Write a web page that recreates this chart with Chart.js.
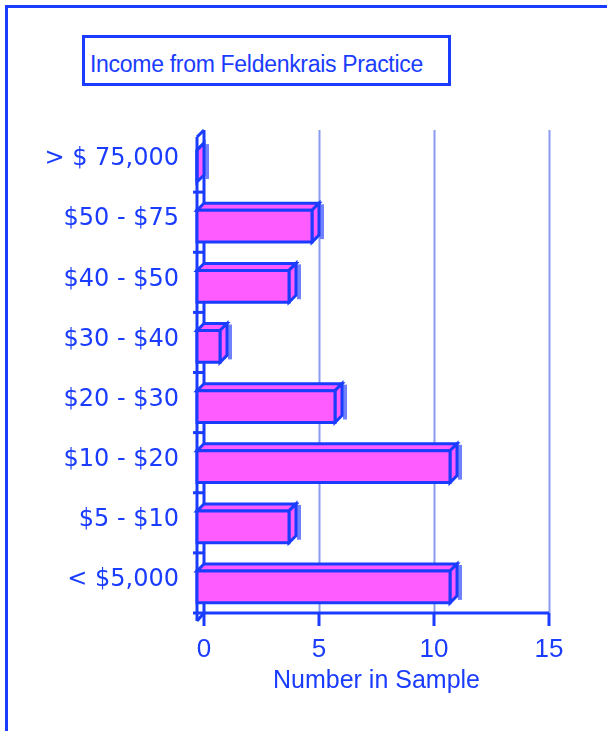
<!DOCTYPE html>
<html>
<head>
<meta charset="utf-8">
<script src="https://cdn.jsdelivr.net/npm/chart.js@4"></script>
<style>
  html, body { margin: 0; padding: 0; background: #fff; overflow: hidden; }
  #wrap { position: relative; width: 607px; height: 731px; overflow: hidden; }
  #frame { position: absolute; left: 5px; top: 5px; width: 1000px; height: 1000px; border: 3px solid #1a3cff; }
  #title { position: absolute; left: 82px; top: 35px; width: 358px; height: 32px; border: 3px solid #1a3cff;
           font: 23px "Liberation Sans", Arial, sans-serif; line-height: 26px; color: #1a3cff;
           padding: 13px 0 0 5px; letter-spacing: -0.3px; }
  canvas { position: absolute; left: 0; top: 0; }
</style>
</head>
<body>
<div id="wrap">
  <div id="frame"></div>
  <div id="title">Income from Feldenkrais Practice</div>
  <canvas id="chart" width="607" height="731"></canvas>
</div>
<script>
const BLUE = '#1a3cff', PINK = '#ff5cff', GRID = '#8a9cf0', SHADOW = '#7081ff';

const CATEGORIES = ['> $ 75,000', '$50 - $75', '$40 - $50', '$30 - $40', '$20 - $30', '$10 - $20', '$5 - $10', '< $5,000'];
const COUNTS = [0, 5, 4, 1, 6, 11, 4, 11];
const X_TICKS = [0, 5, 10, 15];

const DEPTH = 7;   // 3D offset of the bars
const SHIFT = 3;   // axis lines sit a little below the category slots

const axes3d = {
  id: 'axes3d',
  beforeDatasetsDraw(chart) {
    const { ctx, chartArea } = chart;
    const xs = chart.scales.x, ys = chart.scales.y;
    const top = chartArea.top + 1, bottom = chartArea.bottom + SHIFT;
    const x0 = xs.getPixelForValue(0);
    ctx.save();
    // vertical grid
    ctx.strokeStyle = GRID; ctx.lineWidth = 2;
    X_TICKS.slice(1).forEach(v => {
      const px = Math.round(xs.getPixelForValue(v)) + 0.5;
      ctx.beginPath(); ctx.moveTo(px, top); ctx.lineTo(px, bottom); ctx.stroke();
    });
    // the wall of the y axis
    ctx.strokeStyle = BLUE; ctx.lineWidth = 3;
    ctx.beginPath();
    ctx.moveTo(x0, top); ctx.lineTo(x0, bottom);
    ctx.moveTo(x0 - DEPTH, top + DEPTH); ctx.lineTo(x0 - DEPTH, bottom + DEPTH + 1);
    ctx.moveTo(x0 - DEPTH, top + DEPTH); ctx.lineTo(x0, top);
    ctx.moveTo(x0 - DEPTH, bottom + DEPTH + 1); ctx.lineTo(x0, bottom);
    ctx.stroke();
    // category ticks
    for (let i = 0; i < CATEGORIES.length - 1; i++) {
      const py = (ys.getPixelForValue(i) + ys.getPixelForValue(i + 1)) / 2 + SHIFT;
      ctx.beginPath(); ctx.moveTo(x0 - 11, py); ctx.lineTo(x0, py); ctx.stroke();
    }
    ctx.restore();
  },
  afterDatasetsDraw(chart) {
    const { ctx, chartArea } = chart;
    const xs = chart.scales.x;
    const meta = chart.getDatasetMeta(0);
    ctx.save();
    ctx.lineWidth = 3; ctx.lineJoin = 'miter'; ctx.strokeStyle = BLUE;
    meta.data.forEach(el => {
      const { x, y, base, height } = el.getProps(['x', 'y', 'base', 'height'], true);
      const t = y - height / 2, b = y + height / 2, D = DEPTH;
      ctx.fillStyle = SHADOW;
      ctx.fillRect(x + 1, t + 1, 4, height + 3);
      const faces = [
        [[base - D, t + D], [x - D, t + D], [x, t], [base, t]],
        [[x - D, t + D], [x, t], [x, b], [x - D, b + D]],
        [[base - D, t + D], [x - D, t + D], [x - D, b + D], [base - D, b + D]],
      ];
      faces.forEach(f => {
        ctx.beginPath();
        f.forEach((p, i) => i ? ctx.lineTo(p[0], p[1]) : ctx.moveTo(p[0], p[1]));
        ctx.closePath();
        ctx.fillStyle = PINK; ctx.fill(); ctx.stroke();
      });
    });
    // x axis
    const yAxis = chartArea.bottom + SHIFT;
    const x0 = xs.getPixelForValue(0);
    ctx.beginPath();
    ctx.moveTo(x0 - 11, yAxis); ctx.lineTo(xs.getPixelForValue(15), yAxis);
    X_TICKS.forEach(v => {
      const px = xs.getPixelForValue(v);
      ctx.moveTo(px, yAxis); ctx.lineTo(px, yAxis + 13);
    });
    ctx.stroke();
    ctx.restore();
  }
};

new Chart(document.getElementById('chart'), {
  type: 'bar',
  data: {
    labels: CATEGORIES,
    datasets: [{ data: COUNTS, backgroundColor: 'rgba(0,0,0,0)', borderWidth: 0,
                 categoryPercentage: 1, barPercentage: 0.53 }],
  },
  options: {
    indexAxis: 'y', responsive: false, animation: false,
    layout: { padding: { top: 129, right: 58, left: 0, bottom: 0 } },
    plugins: { legend: { display: false }, tooltip: { enabled: false } },
    scales: {
      x: {
        min: 0, max: 15,
        afterFit: s => { s.height = 121; },
        afterBuildTicks: s => { s.ticks = X_TICKS.map(v => ({ value: v })); },
        grid: { display: false }, border: { display: false },
        ticks: { color: BLUE, padding: 16, maxRotation: 0, font: { family: 'Liberation Sans', size: 26 } },
        title: { display: true, text: 'Number in Sample', color: BLUE,
                 font: { family: 'Liberation Sans', size: 25 }, padding: { top: 0, bottom: 35 } },
      },
      y: {
        afterFit: s => { s.width = 204; },
        grid: { display: false }, border: { display: false },
        ticks: { color: BLUE, padding: 17, font: { family: 'DejaVu Sans', size: 24 } },
      },
    },
  },
  plugins: [axes3d],
});
</script>
</body>
</html>
